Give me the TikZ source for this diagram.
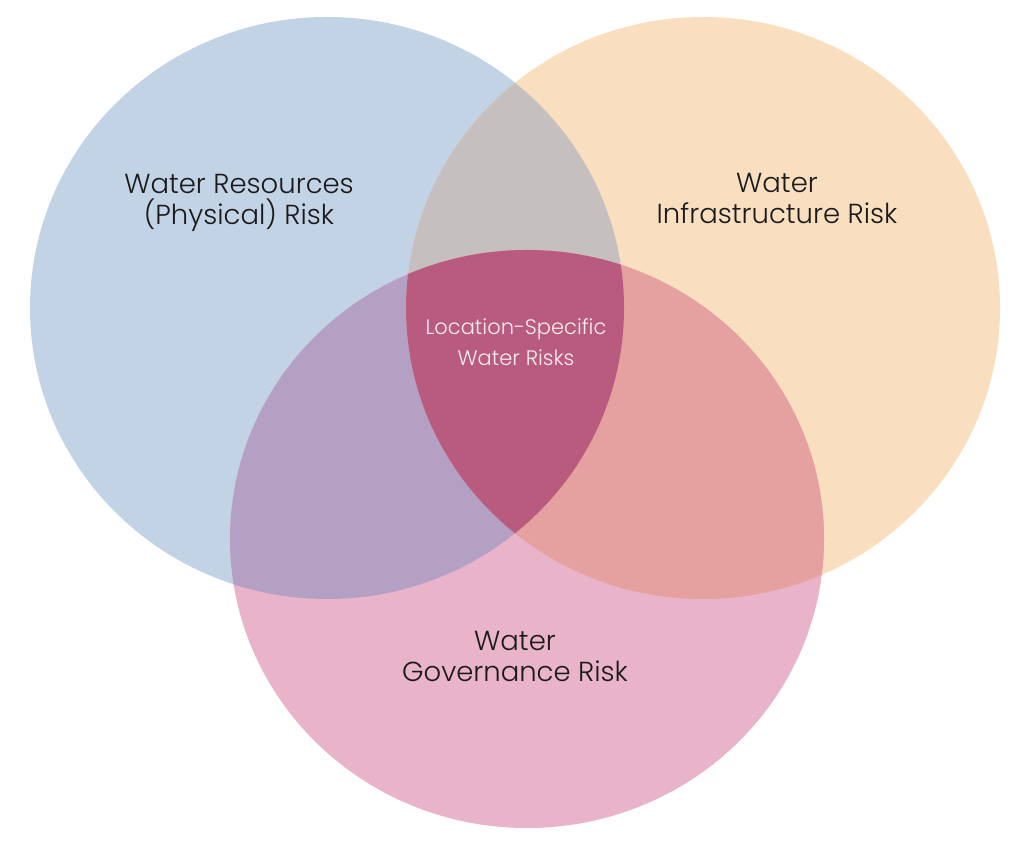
\documentclass[tikz,border=0pt]{standalone}
\usepackage{fontspec}
\setmainfont{Poppins Light}
\definecolor{cblue}{HTML}{C3D3E6}
\definecolor{corange}{HTML}{F9DFC0}
\definecolor{cpink}{HTML}{E9B3CA}
\definecolor{cBO}{HTML}{C5BFBF}
\definecolor{cBP}{HTML}{B3A0C3}
\definecolor{cOP}{HTML}{E5A19F}
\definecolor{cBOP}{HTML}{B95A7F}
\definecolor{ctext}{HTML}{1A1A1A}
\definecolor{cwtext}{HTML}{F8EEF3}
\tikzset{
  biglabel/.style={align=center, inner sep=0pt, text=ctext, font=\fontsize{27.5}{31}\selectfont},
  smalllabel/.style={align=center, inner sep=0pt, text=cwtext, font=\fontsize{21}{31}\selectfont}
}
\begin{document}
\begin{tikzpicture}[x=1pt,y=1pt]
\useasboundingbox (0,0) rectangle (1024,853);
\fill[white] (0,0) rectangle (1024,853);
% base circles
\fill[cblue] (327,545) ellipse [x radius=297, y radius=291];
\fill[corange] (703,545) ellipse [x radius=297, y radius=291];
\fill[cpink] (527,314) ellipse [x radius=297, y radius=289];
% pairwise overlaps inside blue
\begin{scope}
  \clip (327,545) ellipse [x radius=297, y radius=291];
  \fill[cBO] (703,545) ellipse [x radius=297, y radius=291];
  \fill[cBP] (527,314) ellipse [x radius=297, y radius=289];
\end{scope}
% orange-pink overlap and triple centre
\begin{scope}
  \clip (703,545) ellipse [x radius=297, y radius=291];
  \fill[cOP] (527,314) ellipse [x radius=297, y radius=289];
  \clip (327,545) ellipse [x radius=297, y radius=291];
  \fill[cBOP] (527,314) ellipse [x radius=297, y radius=289];
\end{scope}
% labels
\node[biglabel] (phys) at (239,650) {Water Resources\\(Physical) Risk};
\node[biglabel] (infra) at (777,654) {Water\\Infrastructure Risk};
\node[biglabel] (gov) at (515,196) {Water\\Governance Risk};
\node[smalllabel] (loc) at (516,511) {Location-Specific\\Water Risks};
\end{tikzpicture}
\end{document}
